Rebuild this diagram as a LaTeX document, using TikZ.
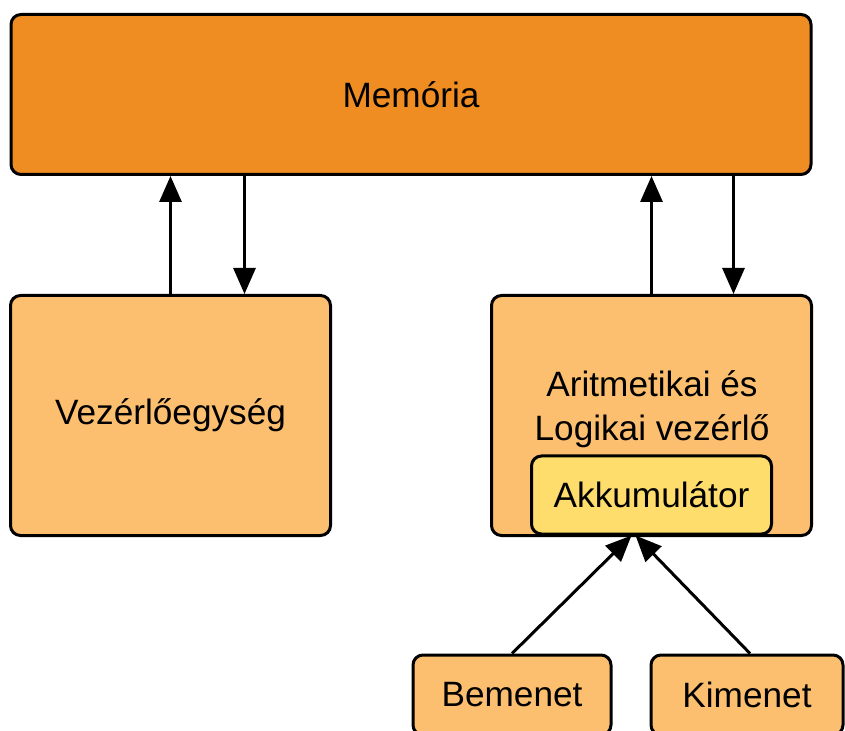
\documentclass[tikz,border=0pt]{standalone}
\usepackage{fontspec}
\setmainfont{Liberation Sans}
\usetikzlibrary{arrows.meta,calc}
\definecolor{memfill}{HTML}{EF8D23}
\definecolor{unitfill}{HTML}{FCBF6F}
\definecolor{accfill}{HTML}{FFDD6C}

\begin{document}
\begin{tikzpicture}[x=0.5pt,y=-0.5pt,>={Triangle[length=13pt,width=11pt]},
    box/.style={draw,line width=1.5pt,rounded corners=5pt,fill=unitfill,inner sep=0pt},
    arr/.style={->,line width=1.5pt}]
      \useasboundingbox (0,0) rectangle (845,731);
      \fontsize{17.6}{22}\selectfont
      % Memory
      \node[box,fill=memfill,minimum width=400pt,minimum height=80pt] (mem) at (411,94.5) {Memória};
      % Control unit
      \node[box,minimum width=160pt,minimum height=120pt] (vez) at (170.5,415.5) {Vezérlőegység};
      % ALU
      \node[box,minimum width=160pt,minimum height=120pt] (alu) at (651.5,415.5) {};
      \node[align=center,inner sep=0pt] (alulabel) at (652,409) {Aritmetikai és\\Logikai vezérlő};
      \node[box,fill=accfill,minimum width=120pt,minimum height=39pt] (akk) at (651.5,495) {Akkumulátor};
      % Input / output
      \node[box,minimum width=99pt,minimum height=40pt] (bem) at (512,695) {Bemenet};
      \node[box,minimum width=96pt,minimum height=40pt] (kim) at (747,695) {Kimenet};
      % Connections
      \draw[arr] (vez.north) -- (vez.north |- mem.south);
      \draw[arr] ($(vez.north |- mem.south)+(74,0)$) -- ($(vez.north)+(74,0)$);
      \draw[arr] (alu.north) -- (alu.north |- mem.south);
      \draw[arr] ($(alu.north |- mem.south)+(82,0)$) -- ($(alu.north)+(82,0)$);
      \draw[arr] (bem.north) -- ($(akk.south)+(-20,0)$);
      \draw[arr] ($(kim.north)+(3,0)$) -- ($(akk.south)+(-16,0)$);
    \end{tikzpicture}
\end{document}
